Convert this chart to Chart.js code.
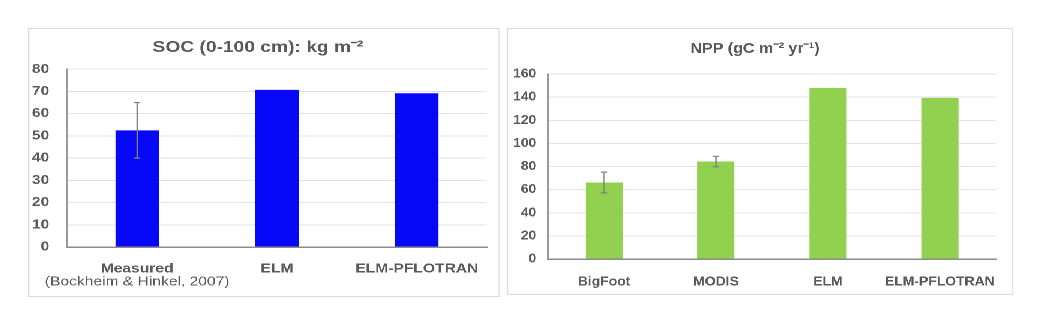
<!DOCTYPE html>
<html>
<head>
<meta charset="utf-8">
<script src="https://cdn.jsdelivr.net/npm/chart.js@4"></script>
<style>
  body { margin: 0; background: #fff; width: 1050px; height: 316px; position: relative; overflow: hidden; }
  .panel { position: absolute; border: 1px solid #d9d9d9; box-sizing: border-box; background: #fff; transform-origin: 0 0; }
  /* the source picture is stretched sideways, so each panel is widened with scaleX */
  #socBox { left: 28px; top: 28px; width: 393.3px; height: 269px; transform: scaleX(1.2); }
  #nppBox { left: 507px; top: 28px; width: 473px; height: 267px; transform: scaleX(1.07); }
</style>
</head>
<body>
<div class="panel" id="socBox"><canvas id="soc"></canvas></div>
<div class="panel" id="nppBox"><canvas id="npp"></canvas></div>
<script>
const socCategories = ['Measured', 'ELM', 'ELM-PFLOTRAN'];
const socValues = [52.5, 70.7, 69.2];
const socErrors = [12.5, null, null];
const socNote = '(Bockheim & Hinkel, 2007)';

const nppCategories = ['BigFoot', 'MODIS', 'ELM', 'ELM-PFLOTRAN'];
const nppValues = [66.2, 84.3, 148, 139.4];
const nppErrors = [9, 4.5, null, null];

const textGray = '#595959';
const fontFamily = "'Liberation Sans', Arial, sans-serif";

// draws the vertical error bars with small caps
const errorBars = {
  id: 'errorBars',
  afterDatasetsDraw(chart, args, opts) {
    const { ctx } = chart;
    const y = chart.scales.y;
    const meta = chart.getDatasetMeta(0);
    const vals = chart.data.datasets[0].data;
    ctx.save();
    ctx.strokeStyle = '#7f7f7f';
    ctx.lineWidth = 1.2;
    opts.errors.forEach((e, i) => {
      if (e == null) return;
      const x = meta.data[i].x;
      const top = y.getPixelForValue(vals[i] + e);
      const bot = y.getPixelForValue(vals[i] - e);
      ctx.beginPath();
      ctx.moveTo(x, top); ctx.lineTo(x, bot);
      ctx.moveTo(x - opts.cap, top); ctx.lineTo(x + opts.cap, top);
      ctx.moveTo(x - opts.cap, bot); ctx.lineTo(x + opts.cap, bot);
      ctx.stroke();
    });
    ctx.restore();
  }
};

// second, non-bold line under the first category label
const subLabel = {
  id: 'subLabel',
  afterDraw(chart, args, opts) {
    if (!opts.text) return;
    const { ctx } = chart;
    const x = chart.scales.x.getPixelForValue(0);
    ctx.save();
    ctx.font = '13px ' + fontFamily;
    ctx.fillStyle = textGray;
    ctx.textAlign = 'center';
    ctx.textBaseline = 'middle';
    ctx.fillText(opts.text, x, opts.y);
    ctx.restore();
  }
};

function makeChart(id, cats, vals, errs, color, barPct, yMax, yStep, title, titleFont, titlePad, axisW, axisH, padRight, yPad, xPad, cap, note) {
  return new Chart(document.getElementById(id), {
    type: 'bar',
    data: {
      labels: cats,
      datasets: [{ data: vals, backgroundColor: color, borderWidth: 0, barPercentage: barPct, categoryPercentage: 1 }]
    },
    options: {
      responsive: true,
      maintainAspectRatio: false,
      animation: false,
      devicePixelRatio: 2,
      layout: { padding: { left: 0, right: padRight, top: 0, bottom: 0 } },
      plugins: {
        legend: { display: false },
        tooltip: { enabled: false },
        title: { display: true, text: title, color: textGray, font: titleFont, padding: titlePad },
        errorBars: { errors: errs, cap: cap },
        subLabel: note
      },
      scales: {
        x: {
          grid: { display: false, drawTicks: false },
          border: { color: '#8c8c8c', width: 1.5 },
          ticks: { color: textGray, font: { family: fontFamily, size: 13, weight: 'bold' }, padding: xPad, maxRotation: 0, autoSkip: false },
          afterFit: (s) => { s.height = axisH; }
        },
        y: {
          min: 0, max: yMax,
          grid: { color: '#e3e3e3', drawTicks: false },
          border: { color: '#9a9a9a', width: 1.5 },
          ticks: { stepSize: yStep, color: textGray, font: { family: fontFamily, size: 13, weight: 'bold' }, padding: yPad },
          afterFit: (s) => { s.width = axisW; }
        }
      }
    },
    plugins: [errorBars, subLabel]
  });
}

makeChart('soc', socCategories, socValues, socErrors, '#0808f8', 0.31, 80, 10,
  'SOC (0-100 cm): kg m\u207B\u00B2', { family: fontFamily, size: 16, weight: 'bold' }, { top: 9, bottom: 12 },
  31.7, 49, 10, 15, 14, 2.5, { text: socNote, y: 253 });

makeChart('npp', nppCategories, nppValues, nppErrors, '#92d050', 0.33, 160, 20,
  'NPP (gC m\u207B\u00B2 yr\u207B\u00B9)', { family: fontFamily, size: 15, weight: 'bold' }, { top: 11, bottom: 16 },
  37.4, 35, 9.4, 11, 15, 3, { text: null });
</script>
</body>
</html>
